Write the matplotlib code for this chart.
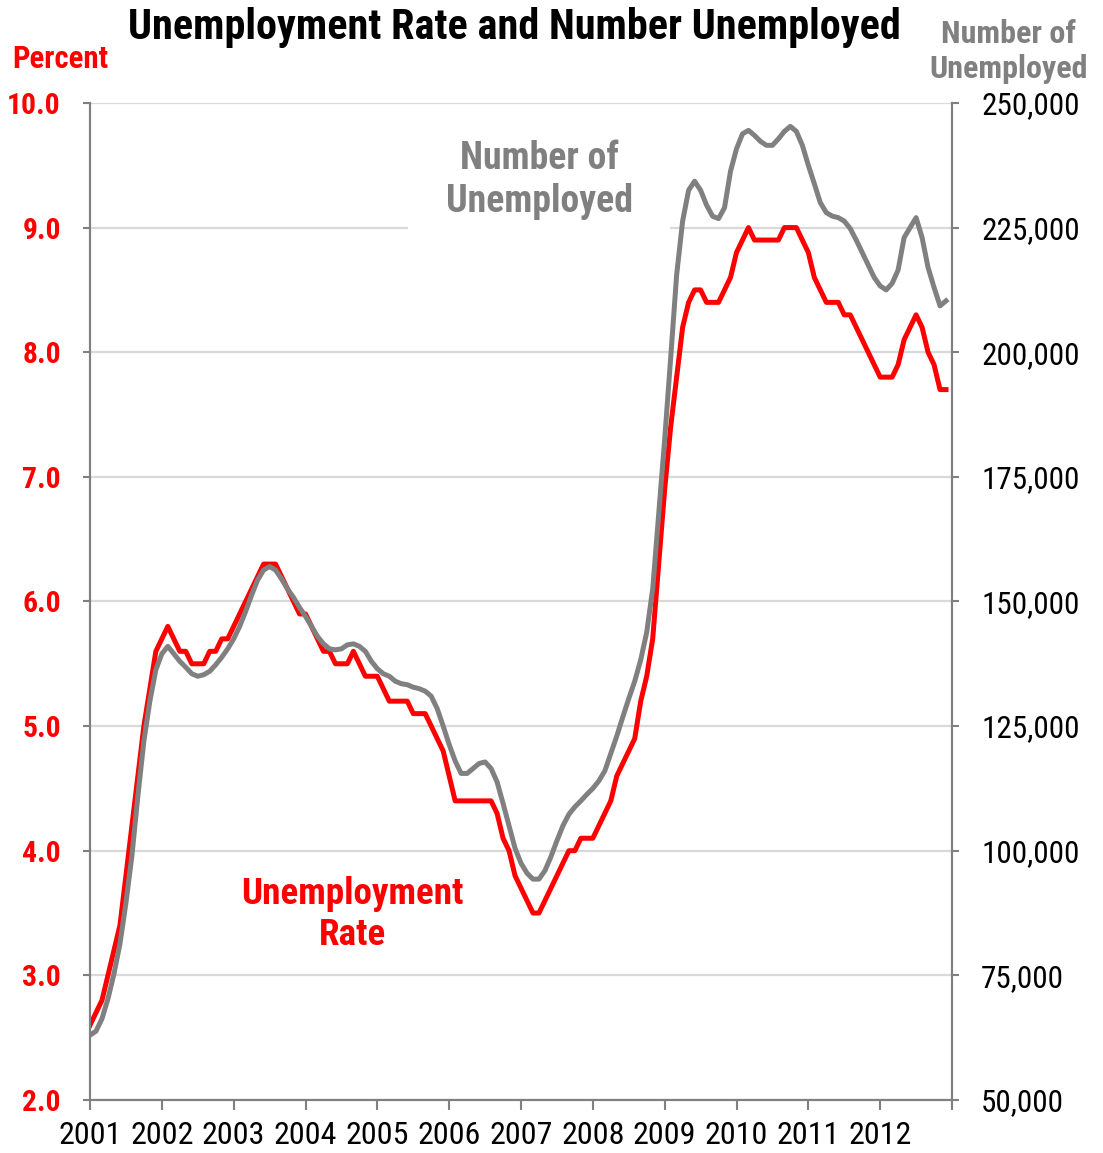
import numpy as np
import matplotlib
matplotlib.use("Agg")
import matplotlib.pyplot as plt
from matplotlib import font_manager as fm
from matplotlib.font_manager import FontProperties
from matplotlib.textpath import TextPath
from matplotlib.ticker import FuncFormatter
from matplotlib.patches import Rectangle

# monthly unemployment rate (percent), Jan 2001 - Dec 2012
rate_2001 = [2.6, 2.7, 2.8, 3.0, 3.2, 3.4, 3.8, 4.2, 4.6, 5.0, 5.3, 5.6]
rate_2002 = [5.7, 5.8, 5.7, 5.6, 5.6, 5.5, 5.5, 5.5, 5.6, 5.6, 5.7, 5.7]
rate_2003 = [5.8, 5.9, 6.0, 6.1, 6.2, 6.3, 6.3, 6.3, 6.2, 6.1, 6.0, 5.9]
rate_2004 = [5.9, 5.8, 5.7, 5.6, 5.6, 5.5, 5.5, 5.5, 5.6, 5.5, 5.4, 5.4]
rate_2005 = [5.4, 5.3, 5.2, 5.2, 5.2, 5.2, 5.1, 5.1, 5.1, 5.0, 4.9, 4.8]
rate_2006 = [4.6, 4.4, 4.4, 4.4, 4.4, 4.4, 4.4, 4.4, 4.3, 4.1, 4.0, 3.8]
rate_2007 = [3.7, 3.6, 3.5, 3.5, 3.6, 3.7, 3.8, 3.9, 4.0, 4.0, 4.1, 4.1]
rate_2008 = [4.1, 4.2, 4.3, 4.4, 4.6, 4.7, 4.8, 4.9, 5.2, 5.4, 5.7, 6.3]
rate_2009 = [6.9, 7.4, 7.8, 8.2, 8.4, 8.5, 8.5, 8.4, 8.4, 8.4, 8.5, 8.6]
rate_2010 = [8.8, 8.9, 9.0, 8.9, 8.9, 8.9, 8.9, 8.9, 9.0, 9.0, 9.0, 8.9]
rate_2011 = [8.8, 8.6, 8.5, 8.4, 8.4, 8.4, 8.3, 8.3, 8.2, 8.1, 8.0, 7.9]
rate_2012 = [7.8, 7.8, 7.8, 7.9, 8.1, 8.2, 8.3, 8.2, 8.0, 7.9, 7.7, 7.7]

# monthly number of unemployed persons
unemp_2001 = [63000, 63800, 66300, 70300, 75300, 81300, 89500, 99000, 111000, 122000, 130000, 136300]
unemp_2002 = [139500, 141000, 139500, 138000, 136800, 135500, 135000, 135300, 136000, 137300, 138800, 140500]
unemp_2003 = [142500, 145000, 148000, 151300, 154300, 156300, 157000, 156300, 154500, 152500, 150800, 148800]
unemp_2004 = [147000, 145000, 143000, 141500, 140500, 140300, 140500, 141300, 141500, 141000, 140000, 138000]
unemp_2005 = [136500, 135500, 135000, 134000, 133500, 133300, 132800, 132500, 132000, 131000, 128500, 125000]
unemp_2006 = [121300, 118000, 115500, 115500, 116500, 117500, 117800, 116500, 113800, 109500, 105000, 100500]
unemp_2007 = [97500, 95500, 94300, 94300, 96000, 98800, 102000, 105000, 107300, 108800, 110000, 111300]
unemp_2008 = [112500, 114000, 116000, 119500, 123000, 126800, 130500, 134000, 138300, 143800, 152500, 167500]
unemp_2009 = [182500, 198800, 215500, 226300, 232500, 234300, 232500, 229500, 227300, 226800, 229000, 236300]
unemp_2010 = [240800, 243800, 244500, 243500, 242300, 241500, 241500, 242800, 244300, 245300, 244300, 241500]
unemp_2011 = [237500, 233800, 230000, 228000, 227300, 227000, 226300, 224800, 222500, 220000, 217500, 215000]
unemp_2012 = [213300, 212500, 213800, 216500, 223000, 225000, 227000, 223000, 217000, 213000, 209300, 210300]

years = list(range(2001, 2013))
rate = np.array(rate_2001 + rate_2002 + rate_2003 + rate_2004 + rate_2005 + rate_2006
                + rate_2007 + rate_2008 + rate_2009 + rate_2010 + rate_2011 + rate_2012)
unemployed = np.array(unemp_2001 + unemp_2002 + unemp_2003 + unemp_2004 + unemp_2005 + unemp_2006
                      + unemp_2007 + unemp_2008 + unemp_2009 + unemp_2010 + unemp_2011 + unemp_2012)
months = 2001 + np.arange(len(rate)) / 12.0

RED = '#ff0000'
GRAY = '#808080'
DPI = 100

# pick a narrow sans if one is installed, else plain Liberation Sans
installed = {f.name for f in fm.fontManager.ttflist}
FAMILY, STRETCH = 'Liberation Sans', 'normal'
for name in ['Liberation Sans Narrow', 'Arial Narrow', 'Roboto Condensed',
             'Noto Sans Condensed', 'DejaVu Sans Condensed']:
    if name in installed:
        FAMILY = name
        break
plt.rcParams['font.family'] = [FAMILY, 'DejaVu Sans']


def fit_size(text, width_px, weight='normal'):
    """font size (pt) that gives the longest line an ink width of width_px"""
    fp = FontProperties(family=FAMILY, weight=weight, stretch=STRETCH)
    line = max(text.split('\n'), key=len)
    w = TextPath((0, 0), line, size=10, prop=fp).get_extents().width
    return 10 * width_px / (w * DPI / 72)


fig = plt.figure(figsize=(11.03, 11.53), dpi=DPI)
ax = fig.add_axes([0.0816, 0.046, 0.7815, 0.8647])
ax2 = ax.twinx()

ax.set_xlim(2001, 2013)
ax.set_ylim(2.0, 10.0)
ax2.set_ylim(50000, 250000)

ax.set_yticks(np.arange(2.0, 10.01, 1.0))
ax.yaxis.set_major_formatter(FuncFormatter(lambda v, p: f'{v:.1f}'))
ax2.set_yticks(np.arange(50000, 250001, 25000))
ax2.yaxis.set_major_formatter(FuncFormatter(lambda v, p: f'{int(v):,}'))
ax.set_xticks(list(range(2001, 2014)))
ax.set_xticklabels([str(y) for y in years] + [''])

ax.grid(axis='y', color='#d9d9d9', linewidth=1.6)
ax.set_axisbelow(True)

# white box under the in-plot legend text
ax.add_patch(Rectangle((0.369, 0.862), 0.304, 0.03, transform=ax.transAxes,
                       facecolor='white', edgecolor='none', zorder=1.5))

ax.plot(months, rate, color=RED, linewidth=3.6, zorder=3, solid_joinstyle='round')
ax2.plot(months, unemployed, color=GRAY, linewidth=3.6, zorder=3, solid_joinstyle='round')

for a in (ax, ax2):
    a.spines['top'].set_visible(False)
    for s in ['left', 'right', 'bottom']:
        a.spines[s].set_color(GRAY)
        a.spines[s].set_linewidth(1.5)

left_size = fit_size('10.0', 50, 'bold')
right_size = fit_size('250,000', 95)
x_size = fit_size('2001', 56)

ax.tick_params(axis='y', colors=GRAY, length=5, width=1.5, labelcolor=RED,
               labelsize=left_size, pad=16)
for lbl in ax.get_yticklabels():
    lbl.set_fontweight('bold')
ax2.tick_params(axis='y', colors=GRAY, length=5, width=1.5, labelcolor='black',
                labelsize=right_size, pad=16)
ax.tick_params(axis='x', colors=GRAY, length=7, width=1.5, labelcolor='black',
               labelsize=x_size, pad=8)

title = 'Unemployment Rate and Number Unemployed'
fig.text(0.466, 0.976, title, ha='center', va='center',
         fontsize=fit_size(title, 768, 'bold'), fontweight='bold', color='black')
fig.text(0.055, 0.949, 'Percent', ha='center', va='center',
         fontsize=fit_size('Percent', 94, 'bold'), fontweight='bold', color=RED)
right_lbl = 'Number of\nUnemployed'
fig.text(0.914, 0.955, right_lbl, ha='center', va='center',
         fontsize=fit_size('Unemployed', 155, 'bold'), fontweight='bold', color=GRAY,
         linespacing=1.2)

ax.text(0.521, 0.923, right_lbl, transform=ax.transAxes, ha='center', va='center',
        fontsize=fit_size('Unemployed', 183, 'bold'), fontweight='bold', color=GRAY,
        linespacing=1.2, zorder=4)
ax.text(0.304, 0.186, 'Unemployment\nRate', transform=ax.transAxes, ha='center',
        va='center', fontsize=fit_size('Unemployment', 220, 'bold'), fontweight='bold',
        color=RED, linespacing=1.2, zorder=4)

fig.savefig('out.png', dpi=DPI)
